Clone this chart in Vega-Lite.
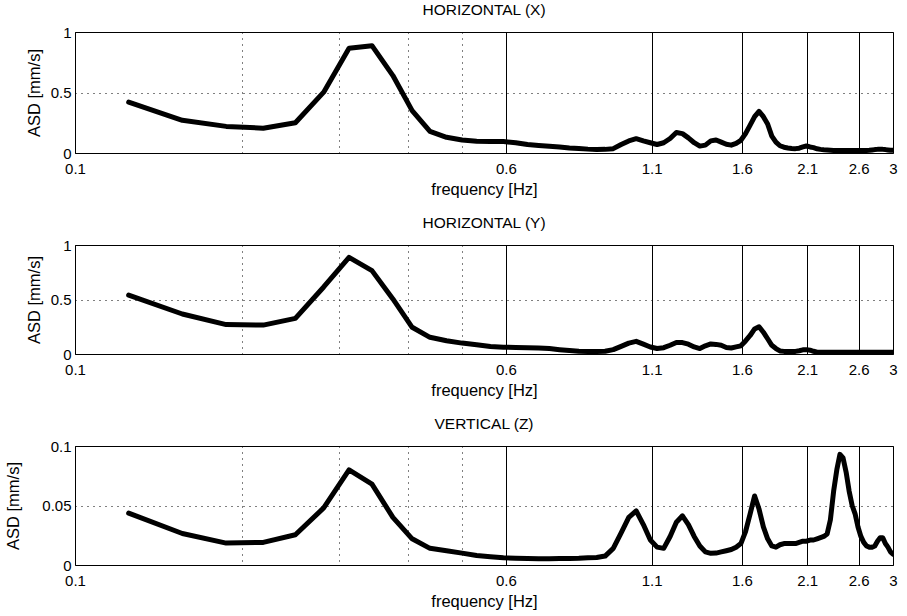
{
  "$schema": "https://vega.github.io/schema/vega-lite/v6.json",
  "padding": {"left": 5, "top": 2, "right": 6, "bottom": 0},
  "background": "white",
  "data": {"values": [
    {"f": 0.125, "x": 0.42, "y": 0.54, "z": 0.0436},
    {"f": 0.15625, "x": 0.27, "y": 0.367, "z": 0.0265},
    {"f": 0.1875, "x": 0.22, "y": 0.27, "z": 0.0184},
    {"f": 0.21875, "x": 0.205, "y": 0.265, "z": 0.019},
    {"f": 0.25, "x": 0.25, "y": 0.327, "z": 0.0254},
    {"f": 0.28125, "x": 0.503, "y": 0.615, "z": 0.048},
    {"f": 0.3125, "x": 0.866, "y": 0.887, "z": 0.08},
    {"f": 0.34375, "x": 0.887, "y": 0.765, "z": 0.068},
    {"f": 0.375, "x": 0.64, "y": 0.505, "z": 0.04},
    {"f": 0.40625, "x": 0.35, "y": 0.245, "z": 0.022},
    {"f": 0.4375, "x": 0.178, "y": 0.153, "z": 0.014},
    {"f": 0.46875, "x": 0.13, "y": 0.122, "z": 0.012},
    {"f": 0.5, "x": 0.107, "y": 0.1, "z": 0.01},
    {"f": 0.53125, "x": 0.098, "y": 0.085, "z": 0.008},
    {"f": 0.5625, "x": 0.095, "y": 0.068, "z": 0.007},
    {"f": 0.59375, "x": 0.095, "y": 0.062, "z": 0.006},
    {"f": 0.625, "x": 0.085, "y": 0.06, "z": 0.0056},
    {"f": 0.65625, "x": 0.07, "y": 0.058, "z": 0.0054},
    {"f": 0.6875, "x": 0.062, "y": 0.055, "z": 0.0053},
    {"f": 0.71875, "x": 0.055, "y": 0.05, "z": 0.0053},
    {"f": 0.75, "x": 0.05, "y": 0.04, "z": 0.0054},
    {"f": 0.78125, "x": 0.042, "y": 0.032, "z": 0.0055},
    {"f": 0.8125, "x": 0.038, "y": 0.025, "z": 0.0056},
    {"f": 0.84375, "x": 0.032, "y": 0.024, "z": 0.006},
    {"f": 0.875, "x": 0.028, "y": 0.024, "z": 0.0063},
    {"f": 0.90625, "x": 0.03, "y": 0.025, "z": 0.0075},
    {"f": 0.9375, "x": 0.036, "y": 0.04, "z": 0.014},
    {"f": 0.96875, "x": 0.07, "y": 0.07, "z": 0.027},
    {"f": 1, "x": 0.1, "y": 0.1, "z": 0.04},
    {"f": 1.03125, "x": 0.118, "y": 0.116, "z": 0.0455},
    {"f": 1.0625, "x": 0.1, "y": 0.09, "z": 0.034},
    {"f": 1.09375, "x": 0.085, "y": 0.064, "z": 0.021},
    {"f": 1.125, "x": 0.07, "y": 0.05, "z": 0.015},
    {"f": 1.15625, "x": 0.085, "y": 0.058, "z": 0.014},
    {"f": 1.1875, "x": 0.12, "y": 0.08, "z": 0.024},
    {"f": 1.21875, "x": 0.17, "y": 0.105, "z": 0.036},
    {"f": 1.25, "x": 0.16, "y": 0.105, "z": 0.0413},
    {"f": 1.28125, "x": 0.125, "y": 0.09, "z": 0.034},
    {"f": 1.3125, "x": 0.085, "y": 0.065, "z": 0.024},
    {"f": 1.34375, "x": 0.057, "y": 0.05, "z": 0.016},
    {"f": 1.375, "x": 0.065, "y": 0.075, "z": 0.011},
    {"f": 1.40625, "x": 0.1, "y": 0.092, "z": 0.0098},
    {"f": 1.4375, "x": 0.108, "y": 0.088, "z": 0.01},
    {"f": 1.46875, "x": 0.09, "y": 0.08, "z": 0.011},
    {"f": 1.5, "x": 0.072, "y": 0.06, "z": 0.012},
    {"f": 1.53125, "x": 0.065, "y": 0.055, "z": 0.013},
    {"f": 1.5625, "x": 0.08, "y": 0.065, "z": 0.015},
    {"f": 1.59375, "x": 0.105, "y": 0.075, "z": 0.018},
    {"f": 1.625, "x": 0.16, "y": 0.12, "z": 0.028},
    {"f": 1.65625, "x": 0.23, "y": 0.17, "z": 0.043},
    {"f": 1.6875, "x": 0.3, "y": 0.23, "z": 0.058},
    {"f": 1.71875, "x": 0.344, "y": 0.25, "z": 0.047},
    {"f": 1.75, "x": 0.3, "y": 0.2, "z": 0.032},
    {"f": 1.78125, "x": 0.24, "y": 0.14, "z": 0.022},
    {"f": 1.8125, "x": 0.14, "y": 0.08, "z": 0.016},
    {"f": 1.84375, "x": 0.09, "y": 0.05, "z": 0.015},
    {"f": 1.875, "x": 0.06, "y": 0.028, "z": 0.017},
    {"f": 1.90625, "x": 0.048, "y": 0.024, "z": 0.018},
    {"f": 1.9375, "x": 0.042, "y": 0.024, "z": 0.018},
    {"f": 1.96875, "x": 0.038, "y": 0.024, "z": 0.018},
    {"f": 2, "x": 0.036, "y": 0.024, "z": 0.018},
    {"f": 2.03125, "x": 0.04, "y": 0.03, "z": 0.019},
    {"f": 2.0625, "x": 0.05, "y": 0.038, "z": 0.02},
    {"f": 2.09375, "x": 0.058, "y": 0.04, "z": 0.02},
    {"f": 2.125, "x": 0.05, "y": 0.035, "z": 0.021},
    {"f": 2.15625, "x": 0.044, "y": 0.025, "z": 0.021},
    {"f": 2.1875, "x": 0.035, "y": 0.016, "z": 0.022},
    {"f": 2.21875, "x": 0.03, "y": 0.015, "z": 0.023},
    {"f": 2.25, "x": 0.027, "y": 0.015, "z": 0.024},
    {"f": 2.28125, "x": 0.025, "y": 0.015, "z": 0.026},
    {"f": 2.3125, "x": 0.023, "y": 0.015, "z": 0.038},
    {"f": 2.34375, "x": 0.021, "y": 0.015, "z": 0.062},
    {"f": 2.375, "x": 0.02, "y": 0.015, "z": 0.08},
    {"f": 2.40625, "x": 0.02, "y": 0.015, "z": 0.093},
    {"f": 2.4375, "x": 0.02, "y": 0.015, "z": 0.09},
    {"f": 2.46875, "x": 0.02, "y": 0.015, "z": 0.078},
    {"f": 2.5, "x": 0.02, "y": 0.015, "z": 0.062},
    {"f": 2.53125, "x": 0.02, "y": 0.015, "z": 0.05},
    {"f": 2.5625, "x": 0.02, "y": 0.015, "z": 0.043},
    {"f": 2.59375, "x": 0.02, "y": 0.015, "z": 0.032},
    {"f": 2.625, "x": 0.02, "y": 0.015, "z": 0.024},
    {"f": 2.65625, "x": 0.02, "y": 0.015, "z": 0.019},
    {"f": 2.6875, "x": 0.021, "y": 0.015, "z": 0.016},
    {"f": 2.71875, "x": 0.022, "y": 0.015, "z": 0.015},
    {"f": 2.75, "x": 0.025, "y": 0.015, "z": 0.015},
    {"f": 2.78125, "x": 0.028, "y": 0.015, "z": 0.016},
    {"f": 2.8125, "x": 0.03, "y": 0.015, "z": 0.02},
    {"f": 2.84375, "x": 0.03, "y": 0.015, "z": 0.023},
    {"f": 2.875, "x": 0.03, "y": 0.015, "z": 0.023},
    {"f": 2.90625, "x": 0.028, "y": 0.015, "z": 0.018},
    {"f": 2.9375, "x": 0.025, "y": 0.015, "z": 0.015},
    {"f": 2.96875, "x": 0.022, "y": 0.015, "z": 0.011},
    {"f": 3, "x": 0.022, "y": 0.015, "z": 0.009}
  ]},
  "config": {
    "font": "Liberation Sans",
    "view": {"stroke": "black", "strokeWidth": 1},
    "axis": {
      "domain": false, "ticks": false, "grid": true, "gridColor": "black", "gridWidth": 1, "gridOpacity": 1,
      "labelColor": "black", "titleColor": "black", "labelFontSize": 15, "titleFontSize": 16.5,
      "titleFontWeight": "normal", "labelFont": "Liberation Sans", "titleFont": "Liberation Sans"
    },
    "title": {"fontSize": 15.5, "fontWeight": "normal", "font": "Liberation Sans", "color": "black", "offset": 7},
    "concat": {"spacing": 17}
  },
  "vconcat": [
    {
      "title": "HORIZONTAL (X)",
      "width": 818, "height": 121,
      "mark": {"type": "line", "color": "black", "strokeWidth": 5, "strokeJoin": "round", "strokeCap": "round", "clip": true},
      "encoding": {
        "x": {"field": "f", "type": "quantitative", "scale": {"type": "log", "domain": [0.1, 3]},
          "axis": {"title": "frequency [Hz]", "values": [0.1, 0.2, 0.3, 0.4, 0.5, 0.6, 1.1, 1.6, 2.1, 2.6, 3], "format": "~g",
            "labelExpr": "(datum.value > 0.15 && datum.value < 0.55) ? '' : datum.label",
            "labelFlush": false, "labelOverlap": false, "labelPadding": 8, "titlePadding": 5,
            "gridDash": {"condition": {"test": "datum.value < 0.55", "value": [1, 5]}, "value": []}}},
        "y": {"field": "x", "type": "quantitative", "scale": {"domain": [0, 1]},
          "axis": {"title": "ASD [mm/s]", "values": [0, 0.5, 1], "format": "~g", "labelPadding": 4, "titlePadding": 8, "gridDash": [1, 5]}}
      }
    },
    {
      "title": "HORIZONTAL (Y)",
      "width": 818, "height": 109,
      "mark": {"type": "line", "color": "black", "strokeWidth": 5, "strokeJoin": "round", "strokeCap": "round", "clip": true},
      "encoding": {
        "x": {"field": "f", "type": "quantitative", "scale": {"type": "log", "domain": [0.1, 3]},
          "axis": {"title": "frequency [Hz]", "values": [0.1, 0.2, 0.3, 0.4, 0.5, 0.6, 1.1, 1.6, 2.1, 2.6, 3], "format": "~g",
            "labelExpr": "(datum.value > 0.15 && datum.value < 0.55) ? '' : datum.label",
            "labelFlush": false, "labelOverlap": false, "labelPadding": 8, "titlePadding": 5,
            "gridDash": {"condition": {"test": "datum.value < 0.55", "value": [1, 5]}, "value": []}}},
        "y": {"field": "y", "type": "quantitative", "scale": {"domain": [0, 1]},
          "axis": {"title": "ASD [mm/s]", "values": [0, 0.5, 1], "format": "~g", "labelPadding": 4, "titlePadding": 8, "gridDash": [1, 5]}}
      }
    },
    {
      "title": "VERTICAL (Z)",
      "width": 818, "height": 119,
      "mark": {"type": "line", "color": "black", "strokeWidth": 5, "strokeJoin": "round", "strokeCap": "round", "clip": true},
      "encoding": {
        "x": {"field": "f", "type": "quantitative", "scale": {"type": "log", "domain": [0.1, 3]},
          "axis": {"title": "frequency [Hz]", "values": [0.1, 0.2, 0.3, 0.4, 0.5, 0.6, 1.1, 1.6, 2.1, 2.6, 3], "format": "~g",
            "labelExpr": "(datum.value > 0.15 && datum.value < 0.55) ? '' : datum.label",
            "labelFlush": false, "labelOverlap": false, "labelPadding": 8, "titlePadding": 5,
            "gridDash": {"condition": {"test": "datum.value < 0.55", "value": [1, 5]}, "value": []}}},
        "y": {"field": "z", "type": "quantitative", "scale": {"domain": [0, 0.1]},
          "axis": {"title": "ASD [mm/s]", "values": [0, 0.05, 0.1], "format": "~g", "labelPadding": 4, "titlePadding": 20, "gridDash": [1, 5]}}
      }
    }
  ]
}
